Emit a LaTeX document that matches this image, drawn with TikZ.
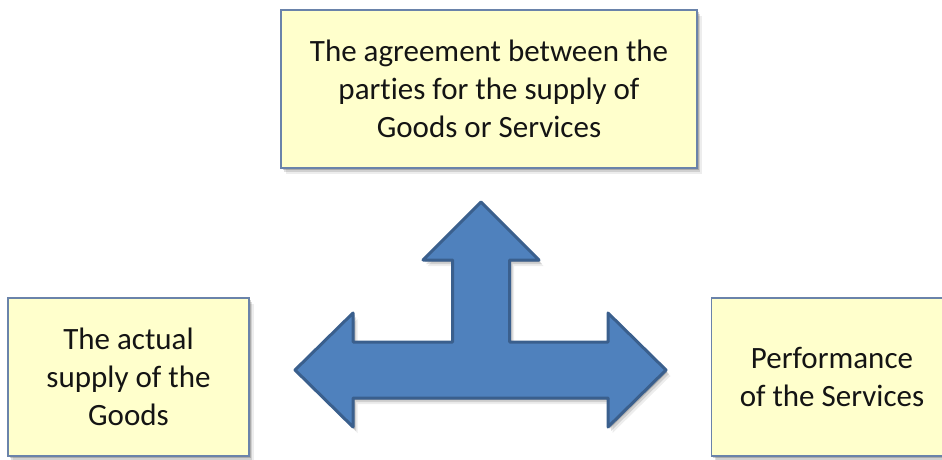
\documentclass[tikz,border=0pt]{standalone}
\usepackage{fontspec}
\setmainfont{Carlito}[Ligatures={NoCommon}]
\usetikzlibrary{shadows}
\definecolor{boxfill}{HTML}{FFFFCC}
\definecolor{boxline}{HTML}{6A83AA}
\definecolor{arrowfill}{HTML}{4F81BD}
\definecolor{arrowline}{HTML}{3A5F8D}
\definecolor{inktext}{HTML}{141414}
\begin{document}
\begin{tikzpicture}[x=1pt,y=-1pt,
  softshadow/.style={
    drop shadow={shadow xshift=1.5pt,shadow yshift=-2pt,opacity=0.18,fill=black},
    drop shadow={shadow xshift=3pt,shadow yshift=-4pt,opacity=0.12,fill=black},
    drop shadow={shadow xshift=4.5pt,shadow yshift=-6pt,opacity=0.07,fill=black}},
  infobox/.style={draw=boxline,line width=1.5pt,fill=boxfill,softshadow,
    inner sep=0pt,align=center,text=inktext,
    font=\fontsize{31}{38}\selectfont},
  blockarrow/.style={draw=arrowline,line width=3pt,fill=arrowfill,
    line join=round,softshadow}]
  \useasboundingbox (0,0) rectangle (942,460);

  % the three statement boxes
  \node[infobox,minimum width=416pt,minimum height=158pt] (agreement) at (489,89)
    {The agreement between the\\parties for the supply of\\Goods or Services};
  \node[infobox,minimum width=241pt,minimum height=158pt] (goods) at (128.5,377)
    {The actual\\supply of the\\Goods};
  \node[infobox,minimum width=241pt,minimum height=158pt] (services) at (832,377)
    {Performance\\of the Services};

  % three-way block arrow
  \coordinate (hub) at (481,370);
  \draw[blockarrow]
    ([shift={(0,-168)}]hub) -- ++(58,58) -- ++(-29.5,0) -- ++(0,82)
    -- ++(98.5,0) -- ++(0,-29) -- ++(58,57) -- ++(-58,57) -- ++(0,-29)
    -- ++(-255,0) -- ++(0,29) -- ++(-58,-57) -- ++(58,-57) -- ++(0,29)
    -- ++(99.5,0) -- ++(0,-82) -- ++(-29.5,0) -- cycle;
\end{tikzpicture}
\end{document}
